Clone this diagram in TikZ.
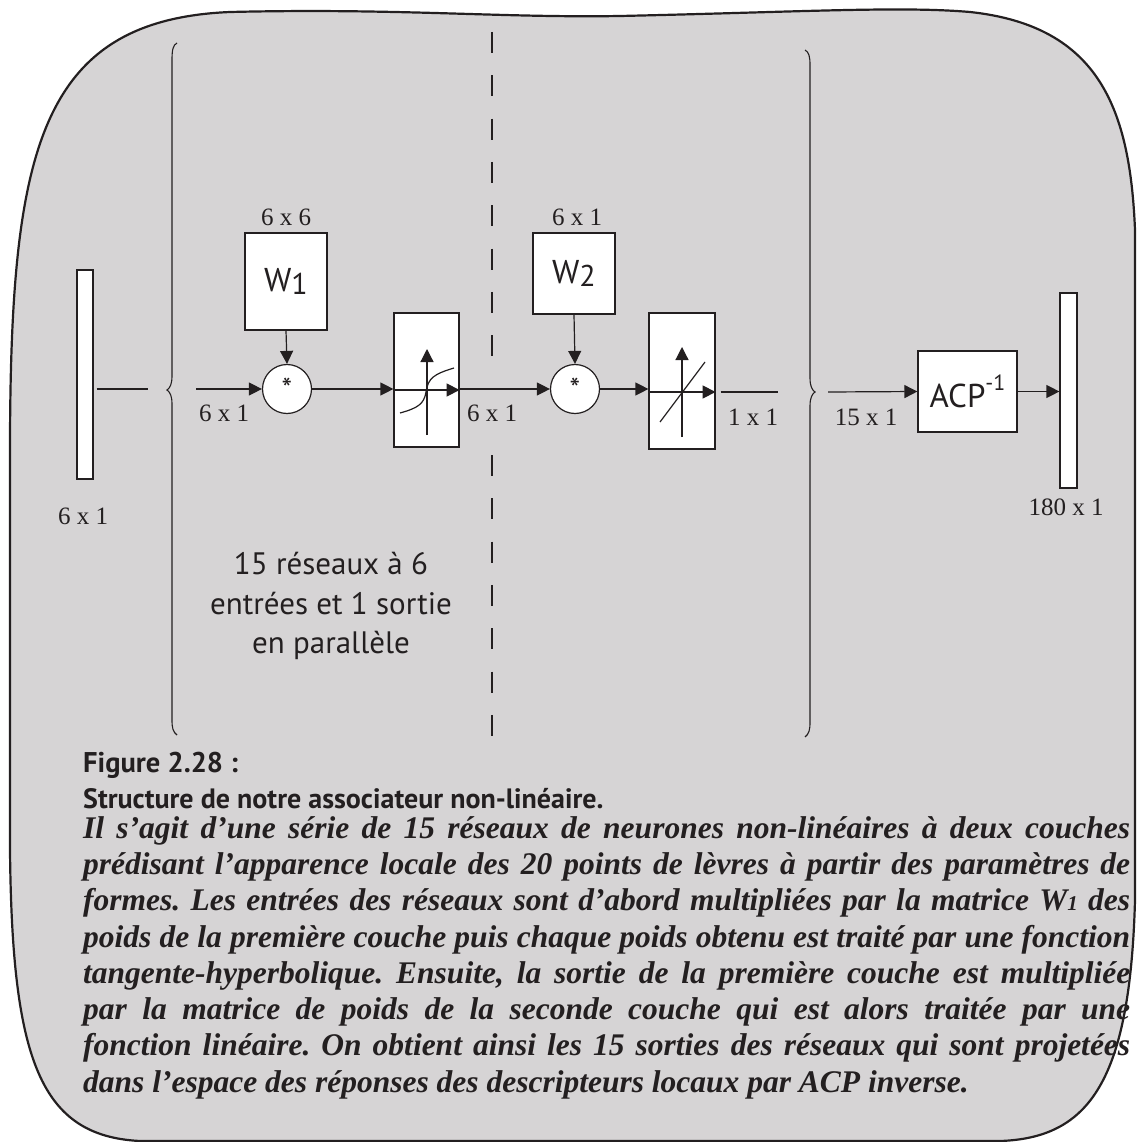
\documentclass[tikz,border=0pt]{standalone}
\usepackage{fontspec}
\setmainfont{Liberation Serif}
\newfontfamily\myr{PT Sans}
\usetikzlibrary{arrows.meta}
\definecolor{bgc}{RGB}{214,212,213}
\definecolor{ink}{RGB}{35,31,32}
\frenchspacing
\begin{document}
\begin{tikzpicture}[x=1pt,y=-1pt,
  ln/.style={draw=ink,line width=1.2pt},
  arr/.style={draw=ink,line width=1.2pt,-{Triangle[length=13pt,width=13pt]}},
  blk/.style={draw=ink,fill=white,line width=1.2pt,inner sep=0pt},
  lbl/.style={font=\fontsize{25}{25}\selectfont,text=ink,inner sep=0pt},
  mult/.style={blk,circle,minimum size=49pt,font=\myr\fontsize{30}{30}\selectfont,text=ink},
  bigtxt/.style={font=\myr\fontsize{33}{33}\selectfont,text=ink},
  dsh/.style={draw=ink,line width=1.3pt,dash pattern=on 21pt off 22.3pt}
]
\useasboundingbox (0,0) rectangle (1136,1142);
% background frame
\path[fill=bgc,draw=ink,line width=2.2pt]
  (10,440) .. controls (11,150) and (40,20) .. (230,12)
  .. controls (400,8) and (500,18) .. (620,16)
  .. controls (800,12) and (900,6) .. (970,12)
  .. controls (1100,26) and (1130,110) .. (1135,230)
  -- (1135,900)
  .. controls (1130,1080) and (1090,1138) .. (1000,1141)
  -- (140,1141)
  .. controls (40,1136) and (12,1060) .. (10,850) -- cycle;

% dashed separator
\draw[dsh] (492,32) -- (492,356);
\draw[dsh] (492,455) -- (492,736);

% braces
\draw[ln,line width=1.1pt] (177,43) .. controls (173,45) and (172,50) .. (172,60) -- (172,376)
  .. controls (172,384) and (170,388) .. (167,390) .. controls (170,392) and (172,396) .. (172,404)
  -- (172,720) .. controls (172,728) and (173,732) .. (177,735);
\draw[ln,line width=1.1pt] (805,50) .. controls (809,52) and (810,57) .. (810,65) -- (810,378)
  .. controls (810,386) and (812,390) .. (815,392) .. controls (812,394) and (810,398) .. (810,406)
  -- (810,722) .. controls (810,730) and (809,734) .. (805,737);

% nodes
\node[blk,minimum width=16pt,minimum height=209pt] (inbar) at (85,374.5) {};
\node[blk,minimum width=82pt,minimum height=97pt,bigtxt] (W1) at (286,281.5) {W\raisebox{-3pt}{\fontsize{30}{30}\selectfont 1}};
\node[mult] (c1) at (287,389) {\raisebox{-6pt}{*}};
\node[blk,minimum width=65pt,minimum height=134pt] (tanh) at (426.5,380) {};
\node[blk,minimum width=82pt,minimum height=81pt,bigtxt] (W2) at (574,273.5) {\raisebox{-5pt}{W\raisebox{-3pt}{\fontsize{30}{30}\selectfont 2}}};
\node[mult] (c2) at (575,389) {\raisebox{-6pt}{*}};
\node[blk,minimum width=66pt,minimum height=136pt] (lin) at (682,381) {};
\node[blk,minimum width=99pt,minimum height=81pt,bigtxt] (acp) at (967.5,391.5) {ACP\raisebox{17pt}{\fontsize{22}{22}\selectfont -1}};
\node[blk,minimum width=17pt,minimum height=195pt] (outbar) at (1068.5,390.5) {};

\coordinate (a0) at (148,389);
\coordinate (b0) at (196,389);
\coordinate (e0) at (778,392);
\coordinate (d0) at (828,392);

% connectors
\draw[ln,shorten <=3pt] (inbar.east |- a0) -- (a0);
\draw[arr] (b0) -- (c1.west);
\draw[arr] (W1.south) -- (c1.north);
\draw[arr] (c1.east) -- (tanh.west |- c1.east);
\draw[arr] (tanh.east |- c2.west) -- (c2.west);
\draw[arr] (W2.south) -- (c2.north);
\draw[arr] (c2.east) -- (lin.west |- c2.east);
\draw[ln,shorten <=5pt] (lin.east |- e0) -- (e0);
\draw[arr] (d0) -- (acp.west);
\draw[arr] (acp.east) -- (outbar.west |- acp.east);

% transfer functions
\draw[arr] (427,435) -- (427,349);
\draw[arr] (tanh.west |- 0,390) -- (tanh.east |- 0,390);
\draw[ln] (400,413) .. controls (418,408) and (424,404) .. (426,392) .. controls (428,378) and (434,374) .. (454,368);
\draw[arr] (682,437) -- (682,347);
\draw[arr] (lin.west |- 0,392) -- (lin.east |- 0,392);
\draw[ln] (660,422) -- (705,362);

% size labels
\node[lbl] (l1) at (83,516) {6 x 1};
\node[lbl] (l2) at (286,217) {6 x 6};
\node[lbl] (l3) at (224,413) {6 x 1};
\node[lbl] (l4) at (492,413) {6 x 1};
\node[lbl] (l5) at (577,217) {6 x 1};
\node[lbl] (l6) at (753,417) {1 x 1};
\node[lbl] (l7) at (866,417) {15 x 1};
\node[lbl] (l8) at (1066,507) {180 x 1};

\node[font=\myr\fontsize{31}{39.5}\selectfont,text=ink,align=center,inner sep=0pt] (par) at (331,606)
  {15 réseaux à 6\\entrées et 1 sortie\\en parallèle};

% caption
\node[anchor=base west,inner sep=0pt,font=\myr\bfseries\fontsize{28.5}{28.5}\selectfont,text=ink] (cap1) at (83,772) {Figure 2.28 :};
\node[anchor=base west,inner sep=0pt,font=\myr\bfseries\fontsize{28}{28}\selectfont,text=ink] (cap2) at (83,808) {Structure de notre associateur non-linéaire.};
\node[anchor=north west,inner sep=0pt,text=ink,align=left,font=\bfseries\itshape\fontsize{31.5}{36.3}\selectfont] (body) at (83,816) {%
\makebox[1047pt][s]{Il s’agit d’une série de 15 réseaux de neurones non-linéaires à deux couches}\\
\makebox[1047pt][s]{prédisant l’apparence locale des 20 points de lèvres à partir des paramètres de}\\
\makebox[1047pt][s]{formes. Les entrées des réseaux sont d’abord multipliées par la matrice W{\fontsize{21}{21}\selectfont 1} des}\\
\makebox[1047pt][s]{poids de la première couche puis chaque poids obtenu est traité par une fonction}\\
\makebox[1047pt][s]{tangente-hyperbolique. Ensuite, la sortie de la première couche est multipliée}\\
\makebox[1047pt][s]{par la matrice de poids de la seconde couche qui est alors traitée par une}\\
\makebox[1047pt][s]{fonction linéaire. On obtient ainsi les 15 sorties des réseaux qui sont projetées}\\
dans l’espace des réponses des descripteurs locaux par ACP inverse.};
\end{tikzpicture}
\end{document}
